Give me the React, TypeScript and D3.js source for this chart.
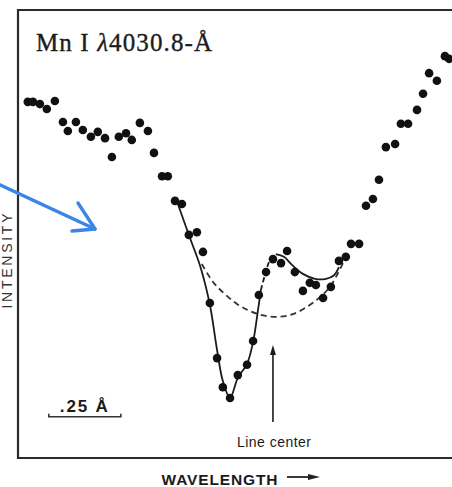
import React from "react";
import * as d3 from "d3";

// Observed points: wavelength offset from line center (mÅ) and relative intensity
const wavelengthOffsets = [
  -851, -833, -809, -785, -757, -729, -712, -684, -660, -632, -608, -583, -559, -535, -510, -490,
  -462, -434, -413, -385, -365, -340, -316, -292, -264, -243, -219, -194, -174, -149, -122, -90,
  -69, -49, -24, 0, 28, 49, 76, 104, 128, 149, 174, 201, 229, 253, 271, 299, 323, 347, 368, 392,
  424, 444, 469, 500, 521, 542, 569, 597, 611,
];
const intensities = [
  79.5, 79.5, 79.0, 77.9, 79.7, 75.0, 73.0, 75.0, 73.2, 71.7, 72.8, 71.4, 67.2, 71.7, 72.5, 71.0,
  74.8, 73.0, 68.1, 62.9, 62.9, 57.4, 56.7, 49.8, 50.4, 46.0, 34.6, 22.3, 15.8, 13.4, 18.5, 20.8,
  26.1, 36.4, 41.5, 44.4, 43.5, 46.2, 41.5, 37.3, 39.1, 38.6, 35.7, 38.2, 44.0, 44.9, 47.8, 47.8,
  56.3, 57.8, 62.1, 69.4, 70.1, 74.6, 74.6, 77.7, 81.3, 85.9, 84.2, 89.7, 89.1,
];

// Narrow (solid) profile
const narrowX = [-330, -288, -253, -219, -194, -174, -149, -122, -90, -69, -52, -42];
const narrowY = [56.7, 49.1, 42.9, 34.2, 24.1, 17.2, 13.4, 17.9, 21.0, 25.9, 33.0, 37.5];
// Narrow profile, dashed rise to the peak
const riseX = [-42, -28, -10, 10];
const riseY = [37.5, 40.8, 44.2, 45.5];
// Solid arc after the peak
const arcX = [10, 38, 66, 104, 146, 184, 212, 229];
const arcY = [45.5, 44.9, 43.1, 41.1, 40.0, 40.0, 40.8, 42.6];
// Broad (dashed) profile
const broadX = [-247, -208, -167, -125, -80, -38, 14, 69, 122, 163, 198, 226, 243];
const broadY = [43.3, 39.3, 36.6, 34.4, 32.8, 31.9, 31.5, 32.1, 33.9, 35.9, 38.2, 41.3, 43.5];

const scaleBarMA = [-778, -528];
const scaleBarLabel = ".25 Å";
const lineCenterMA = 0;
const lineCenterLabel = "Line center";
const xLabel = "WAVELENGTH";
const yLabel = "INTENSITY";

const W = 452;
const H = 487;
const INK = "#1c1c1c";

export default function App() {
  const x = d3.scaleLinear().domain([-885, 621.5]).range([18, 452]);
  const y = d3.scaleLinear().domain([0, 100]).range([458, 10]);

  const mk = (xs: number[], ys: number[], curve: d3.CurveFactory = d3.curveCatmullRom) =>
    d3
      .line<number>()
      .x((_, i) => x(xs[i]))
      .y((_, i) => y(ys[i]))
      .curve(curve)(xs) || "";

  const x0 = x.range()[0];
  const x1 = x.range()[1];
  const yTop = y.range()[1];
  const yBot = y.range()[0];
  const lc = x(lineCenterMA);
  const sb0 = x(scaleBarMA[0]);
  const sb1 = x(scaleBarMA[1]);
  const sbY = y(9.2);

  return (
    <svg
      width={W}
      height={H}
      viewBox={`0 0 ${W} ${H}`}
      style={{ position: "absolute", left: 0, top: 0, background: "#fff", display: "block" }}
    >
      <rect width={W} height={H} fill="#fff" />
      {/* frame */}
      <path
        d={`M${x1},${yTop} L${x0},${yTop} L${x0},${yBot} L${x1},${yBot}`}
        fill="none"
        stroke="#2a2a2a"
        strokeWidth={2.2}
      />
      {/* title */}
      <text
        x={36}
        y={51}
        fontFamily="'Liberation Serif', 'DejaVu Serif', serif"
        fontSize={25}
        fill={INK}
        stroke={INK}
        strokeWidth={0.35}
        textLength={176}
      >
        <tspan>Mn I </tspan>
        <tspan fontStyle="italic">λ</tspan>
        <tspan>4030.8-Å</tspan>
      </text>

      {/* fitted curves */}
      <path d={mk(broadX, broadY)} fill="none" stroke="#333" strokeWidth={1.8} strokeDasharray="6 4" />
      <path d={mk(narrowX, narrowY)} fill="none" stroke={INK} strokeWidth={1.8} />
      <path d={mk(riseX, riseY)} fill="none" stroke={INK} strokeWidth={1.8} strokeDasharray="5 3" />
      <path d={mk(arcX, arcY)} fill="none" stroke={INK} strokeWidth={1.8} />

      {/* points */}
      {wavelengthOffsets.map((w, i) => (
        <circle key={i} cx={x(w)} cy={y(intensities[i])} r={4.3} fill="#111" />
      ))}

      {/* line center arrow */}
      <line x1={lc} x2={lc} y1={352} y2={422} stroke={INK} strokeWidth={1.6} />
      <path d={`M${lc},345 L${lc - 3},355 L${lc + 3},355 Z`} fill={INK} />
      <text
        x={lc + 1}
        y={446.5}
        textAnchor="middle"
        fontFamily="'Liberation Sans', Arial, sans-serif"
        fontSize={14}
        fill="#1a1a1a"
        textLength={74}
      >
        {lineCenterLabel}
      </text>

      {/* scale bar */}
      <text
        x={sb0 + 11}
        y={412}
        fontFamily="'Liberation Sans', Arial, sans-serif"
        fontSize={17}
        fontWeight={600}
        fill="#1a1a1a"
        textLength={48}
      >
        {scaleBarLabel}
      </text>
      <path
        d={`M${sb0},${sbY - 3} L${sb0},${sbY} L${sb1},${sbY} L${sb1},${sbY - 3}`}
        fill="none"
        stroke="#333"
        strokeWidth={1.6}
      />

      {/* axis labels */}
      <text
        x={161.5}
        y={485}
        fontFamily="'Liberation Sans', Arial, sans-serif"
        fontSize={15.5}
        fontWeight={600}
        fill="#1a1a1a"
        textLength={116}
      >
        {xLabel}
      </text>
      <line x1={287} x2={312} y1={477} y2={477} stroke="#222" strokeWidth={1.8} />
      <path d="M320,477 L308,474 L308,480 Z" fill="#222" />
      <text
        transform="translate(12,261) rotate(-90)"
        textAnchor="middle"
        fontFamily="'Liberation Sans', Arial, sans-serif"
        fontSize={14}
        fill="#333"
        textLength={95}
      >
        {yLabel}
      </text>

      {/* blue annotation arrow */}
      <g stroke="#3a86e8" strokeWidth={3.4} fill="none" strokeLinecap="round" strokeLinejoin="round">
        <line x1={-2} y1={184} x2={95} y2={229} />
        <polyline points="78,203 95,229 72,231" />
      </g>
    </svg>
  );
}
